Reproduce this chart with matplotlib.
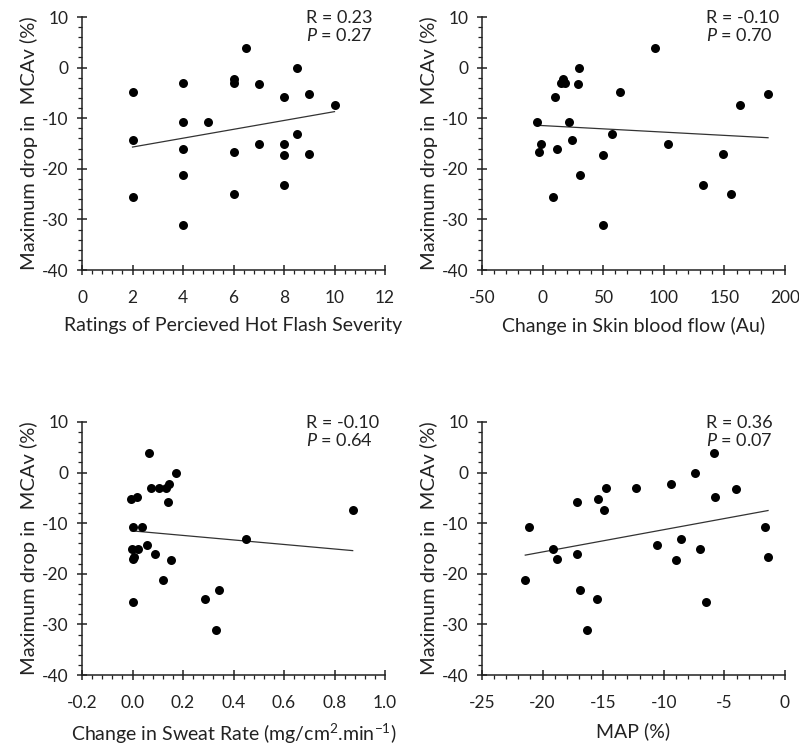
import numpy as np
import matplotlib.pyplot as plt
from matplotlib.ticker import MultipleLocator

plt.rcParams['font.family'] = ['Lato', 'DejaVu Sans']
plt.rcParams['mathtext.fontset'] = 'custom'
plt.rcParams['mathtext.rm'] = 'Lato'
plt.rcParams['mathtext.it'] = 'Lato:italic'
plt.rcParams['axes.unicode_minus'] = False

# MCAv drop (%) - same subjects in each panel
mcav_rpe = [-4.9, -14.4, -25.6, -3.1, -10.75, -16.0, -21.3, -31.1, -10.75, -2.3,
            -3.1, -16.75, -24.9, 3.9, -3.2, -15.1, -5.9, -15.1, -17.3, -23.3,
            0.0, -13.1, -5.2, -17.1, -7.4]
rpe = [2, 2, 2, 4, 4, 4, 4, 4, 5, 6,
       6, 6, 6, 6.5, 7, 7, 8, 8, 8, 8,
       8.5, 8.5, 9, 9, 10]

mcav_sbf = [-10.75, -16.75, -15.1, -25.6, -5.9, -16.0, -3.1, -2.3, -3.1, -10.75,
            -14.4, -3.2, 0.0, -21.3, -17.3, -31.1, -13.1, -4.9, 3.9, -15.1,
            -23.3, -17.1, -24.9, -7.4, -5.2]
sbf = [-4.4, -3.3, -1.4, 8.5, 10.4, 11.5, 15.1, 16.5, 18.4, 22,
       23.9, 29.4, 29.9, 30.5, 49.5, 50, 57.4, 64, 92.9, 103.3,
       132.7, 148.6, 155.8, 162.9, 186]

mcav_sweat = [-5.2, -4.9, 3.9, -3.0, -3.1, -3.1, -2.3, -5.9, 0.0, -10.75,
              -10.75, -15.1, -15.1, -14.4, -16.0, -17.1, -16.75, -17.3, -21.3, -25.6,
              -24.9, -23.3, -31.1, -13.1, -7.4]
sweat = [-0.005, 0.018, 0.065, 0.074, 0.106, 0.133, 0.144, 0.141, 0.174, 0.003,
         0.036, -0.003, 0.02, 0.059, 0.09, 0.0, 0.004, 0.154, 0.12, 0.001,
         0.289, 0.342, 0.33, 0.449, 0.872]

mcav_map = [-21.3, -10.75, -15.1, -17.1, -5.9, -16.0, -23.3, -31.1, -5.2, -24.9,
            -7.4, -3.1, -3.1, -14.4, -2.3, -17.3, -13.1, 0.0, -15.1, -25.6,
            3.9, -4.9, -3.2, -10.75, -16.75]
map_pct = [-21.43, -21.1, -19.15, -18.85, -17.2, -17.14, -16.9, -16.3, -15.47, -15.55,
           -14.97, -14.8, -12.28, -10.55, -9.4, -9.0, -8.6, -7.42, -6.98, -6.48,
           -5.82, -5.74, -4.04, -1.62, -1.4]

# regression lines (slope, intercept)
fit_slope = [0.875, -0.0129, -4.47, 0.44]
fit_intercept = [-17.45, -11.46, -11.52, -6.88]
r_text = ['R = 0.23', 'R = -0.10', 'R = -0.10', 'R = 0.36']
p_text = ['0.27', '0.70', '0.64', '0.07']

xlabels = ['Ratings of Percieved Hot Flash Severity',
           'Change in Skin blood flow (Au)',
           'Change in Sweat Rate (mg/cm$^{2}$.min$^{-1}$)',
           'MAP (%)']
xlims = [(0, 12), (-50, 200), (-0.2, 1.0), (-25, 0)]
xmajor = [2, 50, 0.2, 5]
xs = [rpe, sbf, sweat, map_pct]
ys = [mcav_rpe, mcav_sbf, mcav_sweat, mcav_map]

W, H = 799, 747
fig = plt.figure(figsize=(W / 100, H / 100), dpi=100)
boxes = [(82, 17), (482, 17), (82, 422), (482, 422)]
tc = '#222222'

for i in range(4):
    x0, y0 = boxes[i]
    ax = fig.add_axes([x0 / W, 1 - (y0 + 253) / H, 303 / W, 253 / H])
    x = np.array(xs[i])
    y = np.array(ys[i])
    ax.scatter(x, y, s=42, color='black', zorder=3, linewidths=0)
    xl = np.array([x.min(), x.max()])
    ax.plot(xl, fit_slope[i] * xl + fit_intercept[i], color='#333333', lw=0.9)

    ax.set_xlim(*xlims[i])
    ax.set_ylim(-40, 10)
    ax.xaxis.set_major_locator(MultipleLocator(xmajor[i]))
    ax.xaxis.set_minor_locator(MultipleLocator(xmajor[i] / 5))
    ax.yaxis.set_major_locator(MultipleLocator(10))
    ax.yaxis.set_minor_locator(MultipleLocator(2))
    if i == 2:
        ax.xaxis.set_major_formatter(lambda v, p: f'{v:.1f}')
    for s in ['top', 'right']:
        ax.spines[s].set_visible(False)
    for s in ['left', 'bottom']:
        ax.spines[s].set_linewidth(1.1)
        ax.spines[s].set_color(tc)
    ax.tick_params(which='major', direction='inout', length=7, width=1.1,
                   color=tc, labelsize=12.5, labelcolor=tc)
    ax.tick_params(which='minor', direction='out', length=3, width=0.9, color=tc)
    ax.tick_params(axis='x', which='major', pad=11)
    ax.tick_params(axis='y', which='major', pad=6)

    ax.set_ylabel('Maximum drop in  MCAv (%)', fontsize=14.5, color=tc)
    ax.yaxis.set_label_coords(-0.145, 0.5)
    ax.set_xlabel(xlabels[i], fontsize=14, color=tc)
    ax.xaxis.set_label_coords(0.5, -0.185)

    ax.text(0.74, 0.995, r_text[i], transform=ax.transAxes, fontsize=13,
            color=tc, va='center', ha='left')
    ax.text(0.74, 0.925, '$P$ = ' + p_text[i], transform=ax.transAxes,
            fontsize=13, color=tc, va='center', ha='left')

fig.savefig('out.png', dpi=100)
